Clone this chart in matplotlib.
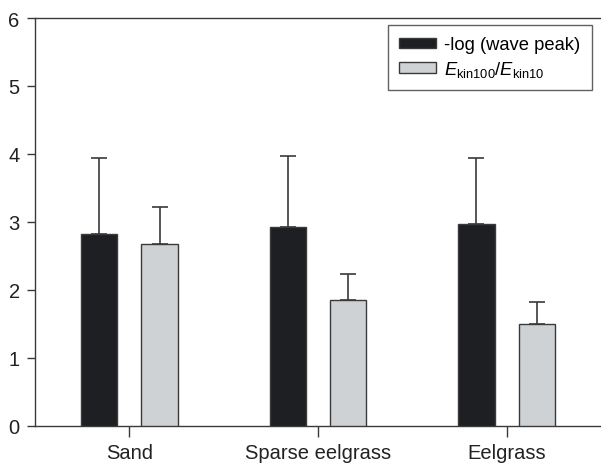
import matplotlib
matplotlib.use("Agg")
import matplotlib.pyplot as plt
import numpy as np

categories = ["Sand", "Sparse eelgrass", "Eelgrass"]
wave_peak = [2.83, 2.93, 2.97]
wave_peak_err = [1.11, 1.04, 0.97]
ekin_ratio = [2.67, 1.85, 1.50]
ekin_ratio_err = [0.55, 0.39, 0.33]
yticks = [0, 1, 2, 3, 4, 5, 6]

plt.rcParams['font.family'] = ['Liberation Sans', 'DejaVu Sans']
plt.rcParams['mathtext.fontset'] = 'custom'
plt.rcParams['mathtext.rm'] = 'Liberation Sans'
plt.rcParams['mathtext.it'] = 'Liberation Sans:italic'

W, H = 601, 464
L, T, B = 35, 19, 427
fig = plt.figure(figsize=(W/100, H/100), dpi=100)
ax = fig.add_axes([L/W, (H-B)/H, 1 - L/W, (B-T)/H])
aw, ah = W - L, B - T

x = np.arange(len(categories))
w = 0.192
off = 0.16
ec = '#3a3a3a'
ax.bar(x - off, wave_peak, w, color='#1e1f22', edgecolor=ec, linewidth=1.0,
       yerr=[np.zeros(3), wave_peak_err], error_kw=dict(ecolor=ec, elinewidth=1.2, capsize=6, capthick=1.2),
       label='-log (wave peak)', zorder=3)
ax.bar(x + off, ekin_ratio, w, color='#cfd2d5', edgecolor=ec, linewidth=1.0,
       yerr=[np.zeros(3), ekin_ratio_err], error_kw=dict(ecolor=ec, elinewidth=1.2, capsize=6, capthick=1.2),
       label=r'$E_{\mathrm{kin100}}/E_{\mathrm{kin10}}$', zorder=3)

ax.set_xlim(-0.5, 2.5)
ax.set_ylim(0, 6)
ax.set_yticks(yticks)
ax.set_xticks(x)
ax.set_xticklabels(categories)
ax.spines['right'].set_visible(False)
for s in ['left', 'top', 'bottom']:
    ax.spines[s].set_color('#3a3a3a')
    ax.spines[s].set_linewidth(1.0)
ax.tick_params(axis='both', labelsize=14.5, color='#3a3a3a', width=1.0, labelcolor='#222222')
ax.tick_params(axis='x', length=8, pad=4)
ax.tick_params(axis='y', length=6, pad=5)

leg = ax.legend(loc='upper right', bbox_to_anchor=((592 - L)/aw, 1 - (26 - T)/ah), bbox_transform=ax.transAxes,
                fontsize=13.2, frameon=True, fancybox=False, edgecolor='#3a3a3a',
                handlelength=2.0, handleheight=0.5, handletextpad=0.45, borderpad=0.62,
                labelspacing=0.3, borderaxespad=0)
leg.get_frame().set_linewidth(1.0)

fig.savefig('out.png', dpi=100)
